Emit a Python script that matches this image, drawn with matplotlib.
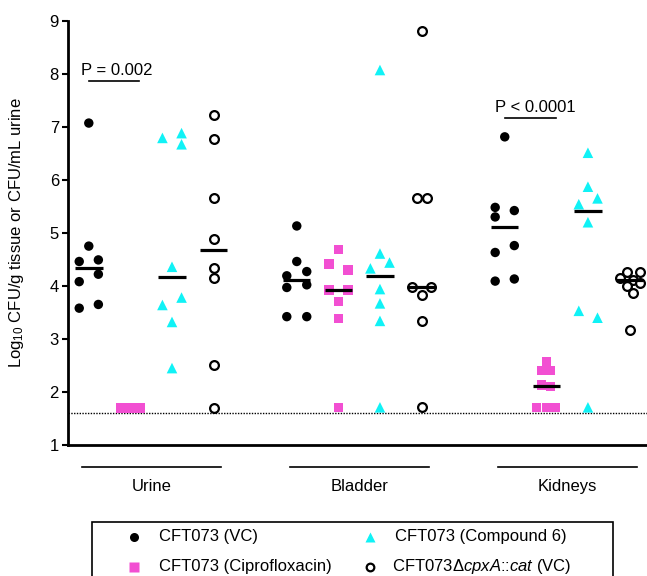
import matplotlib
matplotlib.use("Agg")
import matplotlib.pyplot as plt
import numpy as np
from matplotlib.patches import Rectangle
from matplotlib.lines import Line2D

plt.rcParams['font.family'] = ['Liberation Sans', 'DejaVu Sans']
plt.rcParams['mathtext.fontset'] = 'custom'
plt.rcParams['mathtext.rm'] = 'Liberation Sans'
plt.rcParams['mathtext.it'] = 'Liberation Sans:italic'

# ---------------- data ----------------
groups = ["Urine", "Bladder", "Kidneys"]
series = ["CFT073 (VC)", "CFT073 (Ciprofloxacin)", "CFT073 (Compound 6)",
          "CFT073Δ$\\mathit{cpxA}$::$\\mathit{cat}$ (VC)"]

urine_vc = [7.07, 4.75, 4.46, 4.49, 4.08, 4.22, 3.58, 3.65]
urine_cipro = [1.70, 1.70, 1.70, 1.70, 1.70, 1.70, 1.70, 1.70]
urine_cmp6 = [6.79, 6.88, 6.67, 4.36, 3.64, 3.78, 3.32, 2.45]
urine_dcpxa = [7.23, 6.77, 5.66, 4.88, 4.33, 4.14, 2.51, 1.70]

bladder_vc = [5.13, 4.46, 4.19, 4.27, 3.97, 4.02, 3.42, 3.42]
bladder_cipro = [4.69, 4.41, 4.30, 3.92, 3.92, 3.71, 3.39, 1.71]
bladder_cmp6 = [8.07, 4.61, 4.33, 4.44, 3.94, 3.67, 3.34, 1.71]
bladder_dcpxa = [8.81, 5.66, 5.66, 3.97, 3.97, 3.83, 3.34, 1.71]

kidney_vc = [6.81, 5.48, 5.30, 5.42, 4.76, 4.63, 4.09, 4.13]
kidney_cipro = [2.57, 2.40, 2.40, 2.13, 2.10, 1.71, 1.71, 1.71]
kidney_cmp6 = [6.51, 5.87, 5.54, 5.65, 5.20, 3.53, 3.40, 1.71]
kidney_dcpxa = [4.15, 4.27, 4.27, 4.12, 4.00, 4.05, 3.86, 3.17]

# medians (horizontal bars) per group, per series
urine_median = [4.34, np.nan, 4.17, 4.68]
bladder_median = [4.12, 3.92, 4.18, 3.97]
kidney_median = [5.11, 2.11, 5.41, 4.11]

detection_limit = 1.61
p_labels = ["P = 0.002", "P < 0.0001"]

# ---------------- layout (horizontal scatter offsets) ----------------
offsets = {
    ("Urine", 0): [0, 0, -.23, .23, -.23, .23, -.23, .23],
    ("Urine", 1): [-.24, -.16, -.08, 0, .08, .16, .24, 0],
    ("Urine", 2): [-.23, .23, .23, 0, -.23, .23, 0, 0],
    ("Urine", 3): [0, 0, 0, 0, 0, 0, 0, 0],
    ("Bladder", 0): [0, 0, -.24, .24, -.24, .24, -.24, .24],
    ("Bladder", 1): [0, -.23, .23, -.23, .23, 0, 0, 0],
    ("Bladder", 2): [0, 0, -.23, .23, 0, 0, 0, 0],
    ("Bladder", 3): [0, -.1, .12, -.22, .23, 0, 0, 0],
    ("Kidneys", 0): [0, -.23, -.23, .23, .23, -.23, -.23, .23],
    ("Kidneys", 1): [0, -.11, .1, -.11, .1, -.23, 0, .22],
    ("Kidneys", 2): [0, 0, -.22, .23, 0, -.22, .23, 0],
    ("Kidneys", 3): [-.22, -.06, .24, .08, -.06, .24, .08, .02],
}

data = {
    "Urine": [urine_vc, urine_cipro, urine_cmp6, urine_dcpxa],
    "Bladder": [bladder_vc, bladder_cipro, bladder_cmp6, bladder_dcpxa],
    "Kidneys": [kidney_vc, kidney_cipro, kidney_cmp6, kidney_dcpxa],
}
medians = {"Urine": urine_median, "Bladder": bladder_median, "Kidneys": kidney_median}

PINK = '#F24FD2'
CYAN = '#10F2F6'
styles = [
    dict(marker='o', s=46, c='black', edgecolors='none'),
    dict(marker='s', s=46, c=PINK, edgecolors='none'),
    dict(marker='^', s=58, c=CYAN, edgecolors='none'),
    dict(marker='o', s=40, facecolors='white', edgecolors='black', linewidths=1.6),
]

W, H = 647, 576
fig = plt.figure(figsize=(W / 100, H / 100), dpi=100)
ax_left, ax_bottom = 68 / W, 1 - 445 / H
ax_top = 1 - 20.7 / H
ax = fig.add_axes([ax_left, ax_bottom, 1 - ax_left, ax_top - ax_bottom])

for gi, g in enumerate(groups):
    for si in range(4):
        vals = np.array(data[g][si])
        xs = gi * 5 + si + np.array(offsets[(g, si)])
        ax.scatter(xs, vals, zorder=3, clip_on=False, **styles[si])
        m = medians[g][si]
        if not np.isnan(m):
            ax.plot([gi * 5 + si - 0.33, gi * 5 + si + 0.33], [m, m],
                    color='black', lw=2.3, zorder=4, solid_capstyle='butt')

ax.axhline(detection_limit, color='black', lw=1.0, ls=(0, (1, 1)), zorder=2)

ax.set_xlim(-0.5, 13.42)
ax.set_ylim(1, 9)
ax.set_yticks(range(1, 10))
ax.tick_params(axis='y', labelsize=12, width=1.5, length=4.5, direction='out', pad=2)
ax.tick_params(axis='x', bottom=False, labelbottom=False)
for sp in ['top', 'right']:
    ax.spines[sp].set_visible(False)
for sp in ['left', 'bottom']:
    ax.spines[sp].set_linewidth(2.0)
ax.set_ylabel("Log$_{10}$ CFU/g tissue or CFU/mL urine", fontsize=12)
ax.yaxis.set_label_coords(-0.073, 0.5)

# group brackets + labels below axis
for gi, g in enumerate(groups):
    c = gi * 5 + 1.5
    ax.plot([c - 1.67, c + 1.67], [0.585, 0.585], color='black', lw=1.2, clip_on=False)
    ax.text(c, 0.22, g, ha='center', va='center', fontsize=12)

# p-value annotations
ax.plot([0, 1.2], [7.87, 7.87], color='black', lw=1.2)
ax.text(0.67, 8.07, p_labels[0], ha='center', va='center', fontsize=12)
ax.plot([10.0, 11.23], [7.16, 7.16], color='black', lw=1.2)
ax.text(10.73, 7.36, p_labels[1], ha='center', va='center', fontsize=12)

# legend (box runs off bottom of figure)
def fx(px):
    return px / W

def fy(py):
    return 1 - py / H

fig.patches.append(Rectangle((fx(92), fy(610)), fx(613) - fx(92), fy(521.7) - fy(610),
                             transform=fig.transFigure, fill=False, edgecolor='black', lw=1.2))
leg_pos = [(134, 159, 537), (134, 159, 567), (370, 395, 537), (370, 392, 567)]
leg_marker = [dict(marker='o', ms=6.5, color='black', mec='none'),
              dict(marker='s', ms=6.5, color=PINK, mec='none'),
              dict(marker='^', ms=6.5, color=CYAN, mec='none'),
              dict(marker='o', ms=5.5, mfc='white', mec='black', mew=1.6, color='black')]
for k, (mx, tx, ty) in enumerate(leg_pos):
    fig.add_artist(Line2D([fx(mx)], [fy(ty)], transform=fig.transFigure, ls='none', **leg_marker[k]))
    fig.text(fx(tx), fy(ty), series[k], ha='left', va='center', fontsize=12)

fig.savefig("out.png", dpi=100)
